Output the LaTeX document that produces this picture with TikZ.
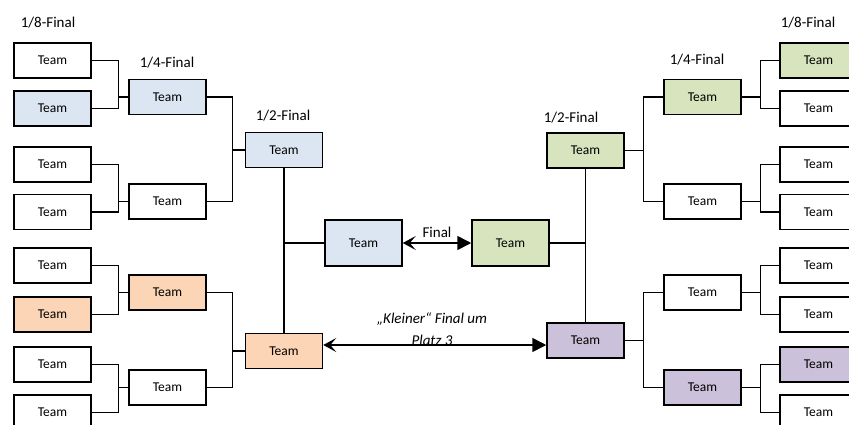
\documentclass[tikz,border=0pt]{standalone}
\usepackage{fontspec}
\setmainfont{Carlito}
\usetikzlibrary{shapes.geometric, arrows.meta, calc}
\definecolor{teamblue}{HTML}{DCE6F2}
\definecolor{teamgreen}{HTML}{D7E4BD}
\definecolor{teamorange}{HTML}{FBD5B5}
\definecolor{teampurple}{HTML}{CCC1DA}
\tikzstyle{team} = [rectangle, draw=black, line width=1.5pt, minimum width=77pt, minimum height=35pt, inner sep=0pt, font=\fontsize{13.5}{15}\selectfont]
\tikzstyle{final} = [team, minimum height=46pt]
\tikzstyle{round} = [font=\fontsize{15}{17}\selectfont]
\tikzstyle{line} = [line width=1.4pt]
\tikzstyle{arrow} = [line width=1.6pt, {Stealth[length=13pt,width=14pt,inset=6pt]}-{Triangle[length=14pt,width=14pt]}]

\begin{document}
\begin{tikzpicture}[x=1pt, y=-1pt]
		\useasboundingbox (0,0) rectangle (849,424);

		%1/8 left
		\node[team] (a1) at (52.5,60.5) {Team};
		\node[team, fill=teamblue] (a2) at (52.5,108.5) {Team};
		\node[team] (a3) at (52.5,164.5) {Team};
		\node[team] (a4) at (52.5,212) {Team};
		\node[team] (a5) at (52.5,265.5) {Team};
		\node[team, fill=teamorange] (a6) at (52.5,314.5) {Team};
		\node[team] (a7) at (52.5,364.5) {Team};
		\node[team] (a8) at (52.5,412.5) {Team};

		%1/4 left
		\node[team, fill=teamblue] (q1) at (167.5,97) {Team};
		\node[team] (q2) at (167.5,201.5) {Team};
		\node[team, fill=teamorange] (q3) at (167.5,292.5) {Team};
		\node[team] (q4) at (167.5,387.5) {Team};

		%1/2 left
		\node[team, fill=teamblue] (s1) at (284,150) {Team};
		\node[team, fill=teamorange] (s2) at (284,351) {Team};

		%Final
		\node[final, fill=teamblue] (f1) at (363.5,243) {Team};
		\node[final, fill=teamgreen] (f2) at (510.5,243) {Team};

		%1/2 right
		\node[team, fill=teamgreen] (s3) at (585.5,150.5) {Team};
		\node[team, fill=teampurple] (s4) at (585.5,340.5) {Team};

		%1/4 right
		\node[team, fill=teamgreen] (q5) at (702.5,97) {Team};
		\node[team] (q6) at (702.5,201.5) {Team};
		\node[team] (q7) at (702.5,292.5) {Team};
		\node[team, fill=teampurple] (q8) at (702.5,387.5) {Team};

		%1/8 right
		\node[team, fill=teamgreen] (b1) at (818.5,60.5) {Team};
		\node[team] (b2) at (818.5,108.5) {Team};
		\node[team] (b3) at (818.5,164.5) {Team};
		\node[team] (b4) at (818.5,212) {Team};
		\node[team] (b5) at (818.5,265.5) {Team};
		\node[team] (b6) at (818.5,314.5) {Team};
		\node[team, fill=teampurple] (b7) at (818.5,364.5) {Team};
		\node[team] (b8) at (818.5,412.5) {Team};

		%round titles
		\node[round] (t8l) at (48,23) {1/8-Final};
		\node[round] (t4l) at (167,63) {1/4-Final};
		\node[round] (t2l) at (283,116) {1/2-Final};
		\node[round] (t2r) at (571,118) {1/2-Final};
		\node[round] (t4r) at (697,60) {1/4-Final};
		\node[round] (t8r) at (808,23) {1/8-Final};

		%brackets left
		\foreach \q/\a/\b/\d in {q1/a1/a2/10, q2/a3/a4/10, q3/a5/a6/10, q4/a7/a8/10, s1/q1/q2/12, s2/q3/q4/12}
			\draw[line] (\a.east) -| ([xshift=-\d pt]\q.west) |- (\b.east) ([xshift=-\d pt]\q.west) -- (\q.west);

		%brackets right
		\foreach \q/\a/\b in {q5/b1/b2, q6/b3/b4, q7/b5/b6, q8/b7/b8, s3/q5/q6, s4/q7/q8}
			\draw[line] (\a.west) -| ([xshift=19pt]\q.east) |- (\b.west) ([xshift=19pt]\q.east) -- (\q.east);

		%to the final
		\draw[line] (s1.south) -- (s2.north);
		\draw[line] (f1.west) -- (f1.west -| s1.south);
		\draw[line] (s3.south) -- (s4.north);
		\draw[line] (f2.east) -- (f2.east -| s3.south);
		\draw[arrow] (f1.east) -- node[round, above=1pt] {Final} (f2.west);

		%small final
		\coordinate (k) at (432,345);
		\draw[arrow] (s2.east |- k) -- (s4.west |- k);
		\node[align=center, font=\fontsize{15}{22}\itshape] (kl) at (432,329) {„Kleiner“ Final um\\Platz 3};

	\end{tikzpicture}
\end{document}
